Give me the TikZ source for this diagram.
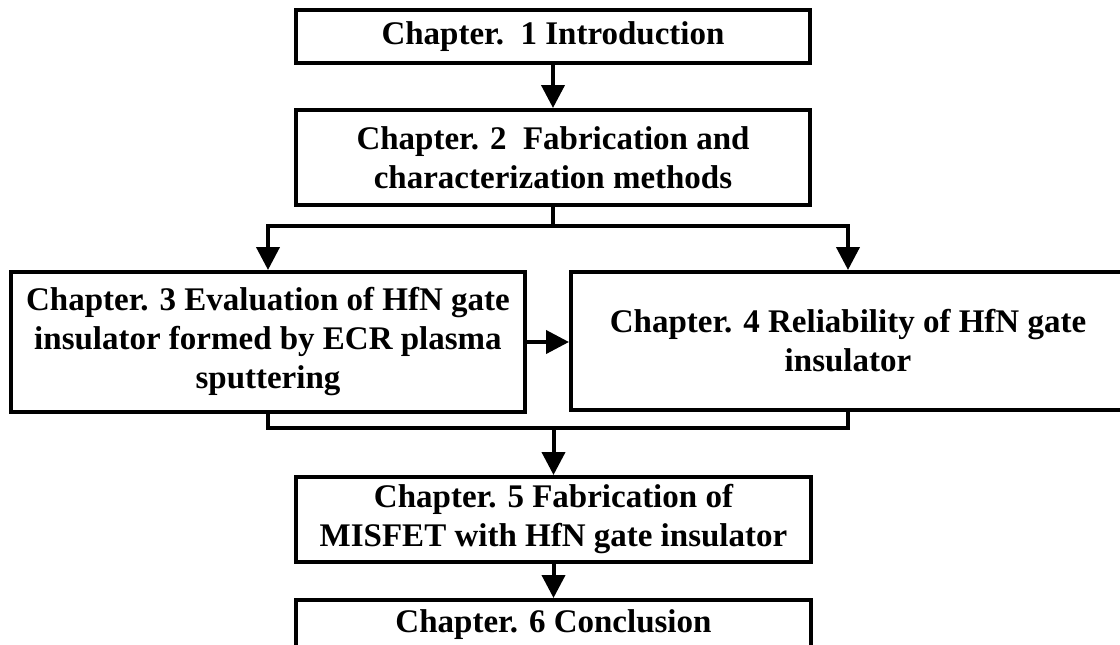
\documentclass[tikz,border=0pt]{standalone}
\usepackage{fontspec}
\setmainfont{Liberation Serif}
\usetikzlibrary{arrows.meta}
\begin{document}
\begin{tikzpicture}[x=1pt,y=-1pt,
  chbox/.style={draw, line width=4pt, inner sep=0pt, align=center,
    font=\bfseries\fontsize{33}{39}\selectfont},
  conn/.style={line width=4pt},
  arr/.style={conn, -{Triangle[width=23pt,length=23pt]}}]
\useasboundingbox (0,0) rectangle (1120,645);
\clip (0,0) rectangle (1120,645);
\node[chbox, minimum width=514pt, minimum height=53pt] (c1) at (553,36.5) {Chapter.\ \ 1 Introduction};
\node[chbox, minimum width=514pt, minimum height=95pt] (c2) at (553,157.5) {Chapter. 2\ \ Fabrication and\\characterization methods};
\node[chbox, minimum width=514pt, minimum height=140pt] (c3) at (268,342) {Chapter. 3 Evaluation of HfN gate\\insulator formed by ECR plasma\\sputtering};
\node[chbox, minimum width=554pt, minimum height=138pt] (c4) at (848,341) {Chapter. 4 Reliability of HfN gate\\insulator};
\node[chbox, minimum width=515pt, minimum height=85pt] (c5) at (553.5,519.5) {Chapter. 5 Fabrication of\\MISFET with HfN gate insulator};
\node[chbox, minimum width=515pt, minimum height=50pt] (c6) at (553.5,625) {Chapter. 6 Conclusion};
\coordinate (b) at (553,226);
\coordinate (m) at (553.5,428);
\draw[arr] (c1) -- (c2);
\draw[conn] (c2.south) -- (b);
\draw[arr] (b) -| (c3.north);
\draw[arr] (b) -| (c4.north);
\draw[arr] (c3.east) -- (c3.east -| c4.west);
\draw[conn] (c3.south) |- (m);
\draw[conn] (c4.south) |- (m);
\draw[arr] (m) -- (c5.north);
\draw[arr] (c5) -- (c6);
\end{tikzpicture}
\end{document}
